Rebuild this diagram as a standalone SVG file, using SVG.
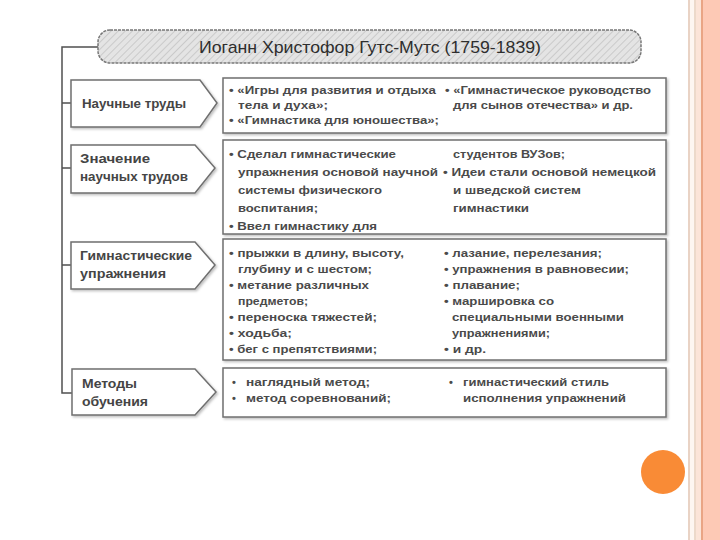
<svg xmlns="http://www.w3.org/2000/svg" width="720" height="540" viewBox="0 0 720 540">
<defs>
<pattern id="hatch" patternUnits="userSpaceOnUse" width="5" height="5" patternTransform="rotate(45)">
<rect width="5" height="5" fill="#e4e4e4"/>
<line x1="0" y1="0" x2="0" y2="5" stroke="#c4c4c4" stroke-width="1.6"/>
</pattern>
<filter id="sh" x="-5%" y="-5%" width="110%" height="120%">
<feDropShadow dx="1.5" dy="1.5" stdDeviation="0.8" flood-color="#000" flood-opacity="0.25"/>
</filter>
</defs>
<style>
.lb{fill:#fff;stroke:#6f6f6f;stroke-width:1.5;filter:url(#sh)}
.rb{fill:#fff;stroke:#6f6f6f;stroke-width:1.5;filter:url(#sh)}
.conn{fill:none;stroke:#505050;stroke-width:1.5}
text{font-family:"Liberation Sans",Arial,sans-serif;fill:#3c3c3c}
.t{font-size:11px;font-weight:bold;fill:#4a4a4a}
.l{font-size:12.5px;font-weight:bold;fill:#454545}
.h{font-size:17px;fill:#2e2e2e}
</style>
<rect width="720" height="540" fill="#ffffff"/>
<g id="border">
<rect x="688" y="0" width="2" height="540" fill="#e9d3c5"/>
<rect x="690" y="0" width="4" height="540" fill="#fdf6f1"/>
<rect x="694" y="0" width="2" height="540" fill="#ecd9ca"/>
<rect x="696" y="0" width="5" height="540" fill="#fbe4d8"/>
<rect x="701" y="0" width="2" height="540" fill="#e9a585"/>
<rect x="703" y="0" width="17" height="540" fill="#fdc9b5"/>
</g>
<circle cx="663" cy="472" r="22" fill="#f98b36"/>

<g id="connectors">
<path class="conn" d="M98,47 H62 V393 H72"/>
<path class="conn" d="M62,103 H71 M62,168 H71 M62,265 H71"/>
</g>

<g id="title">
<rect x="98" y="30" width="543" height="33" rx="12" fill="url(#hatch)" stroke="#777" stroke-width="1.5" stroke-dasharray="3 1"/>
<text class="h" x="370" y="53" text-anchor="middle" textLength="342" lengthAdjust="spacingAndGlyphs">Иоганн Христофор Гутс-Мутс (1759-1839)</text>
</g>

<g id="n1">
<path class="lb" d="M71,80 H200 L217,103 L200,127 H71 Z"/>
<text class="l" x="82" y="108" textLength="104" lengthAdjust="spacingAndGlyphs">Научные труды</text>
</g>
<g id="n1c">
<rect class="rb" x="223" y="78" width="443" height="55"/>
<text class="t" x="229" y="94" textLength="207" lengthAdjust="spacingAndGlyphs">• «Игры для развития и отдыха</text>
<text class="t" x="238" y="109" textLength="90" lengthAdjust="spacingAndGlyphs">тела и духа»;</text>
<text class="t" x="229" y="124" textLength="210" lengthAdjust="spacingAndGlyphs">• «Гимнастика для юношества»;</text>
<text class="t" x="445" y="94" textLength="206" lengthAdjust="spacingAndGlyphs">• «Гимнастическое руководство</text>
<text class="t" x="453" y="109" textLength="180" lengthAdjust="spacingAndGlyphs">для сынов отечества» и др.</text>
</g>

<g id="n2">
<path class="lb" d="M71,145 H195 L215,168 L195,193 H71 Z"/>
<text class="l" x="80" y="163" textLength="70" lengthAdjust="spacingAndGlyphs">Значение</text>
<text class="l" x="80" y="181" textLength="108" lengthAdjust="spacingAndGlyphs">научных трудов</text>
</g>
<g id="n2c">
<rect class="rb" x="223" y="140" width="443" height="94"/>
<text class="t" x="229" y="158" textLength="167" lengthAdjust="spacingAndGlyphs">• Сделал гимнастические</text>
<text class="t" x="238" y="176" textLength="200" lengthAdjust="spacingAndGlyphs">упражнения основой научной</text>
<text class="t" x="238" y="194" textLength="144" lengthAdjust="spacingAndGlyphs">системы физического</text>
<text class="t" x="238" y="212" textLength="80" lengthAdjust="spacingAndGlyphs">воспитания;</text>
<text class="t" x="229" y="230" textLength="148" lengthAdjust="spacingAndGlyphs">• Ввел гимнастику для</text>
<text class="t" x="453" y="158" textLength="112" lengthAdjust="spacingAndGlyphs">студентов ВУЗов;</text>
<text class="t" x="443" y="176" textLength="213" lengthAdjust="spacingAndGlyphs">• Идеи стали основой немецкой</text>
<text class="t" x="453" y="194" textLength="128" lengthAdjust="spacingAndGlyphs">и шведской систем</text>
<text class="t" x="453" y="212" textLength="76" lengthAdjust="spacingAndGlyphs">гимнастики</text>
</g>

<g id="n3">
<path class="lb" d="M71,242 H195 L215,265 L195,289 H71 Z"/>
<text class="l" x="80" y="260" textLength="112" lengthAdjust="spacingAndGlyphs">Гимнастические</text>
<text class="l" x="80" y="278" textLength="86" lengthAdjust="spacingAndGlyphs">упражнения</text>
</g>
<g id="n3c">
<rect class="rb" x="223" y="239" width="443" height="121"/>
<text class="t" x="229" y="257" textLength="175" lengthAdjust="spacingAndGlyphs">• прыжки в длину, высоту,</text>
<text class="t" x="238" y="273" textLength="134" lengthAdjust="spacingAndGlyphs">глубину и с шестом;</text>
<text class="t" x="229" y="289" textLength="140" lengthAdjust="spacingAndGlyphs">• метание различных</text>
<text class="t" x="238" y="305" textLength="70" lengthAdjust="spacingAndGlyphs">предметов;</text>
<text class="t" x="229" y="321" textLength="148" lengthAdjust="spacingAndGlyphs">• переноска тяжестей;</text>
<text class="t" x="229" y="337" textLength="63" lengthAdjust="spacingAndGlyphs">• ходьба;</text>
<text class="t" x="229" y="353" textLength="148" lengthAdjust="spacingAndGlyphs">• бег с препятствиями;</text>
<text class="t" x="444" y="257" textLength="158" lengthAdjust="spacingAndGlyphs">• лазание, перелезания;</text>
<text class="t" x="444" y="273" textLength="185" lengthAdjust="spacingAndGlyphs">• упражнения в равновесии;</text>
<text class="t" x="444" y="289" textLength="76" lengthAdjust="spacingAndGlyphs">• плавание;</text>
<text class="t" x="444" y="305" textLength="110" lengthAdjust="spacingAndGlyphs">• маршировка со</text>
<text class="t" x="452" y="321" textLength="172" lengthAdjust="spacingAndGlyphs">специальными военными</text>
<text class="t" x="452" y="337" textLength="98" lengthAdjust="spacingAndGlyphs">упражнениями;</text>
<text class="t" x="444" y="353" textLength="42" lengthAdjust="spacingAndGlyphs">• и др.</text>
</g>

<g id="n4">
<path class="lb" d="M72,369 H195 L216,392 L195,415 H72 Z"/>
<text class="l" x="82" y="388" textLength="55" lengthAdjust="spacingAndGlyphs">Методы</text>
<text class="l" x="82" y="406" textLength="66" lengthAdjust="spacingAndGlyphs">обучения</text>
</g>
<g id="n4c">
<rect class="rb" x="223" y="368" width="443" height="49"/>
<text class="t" x="232" y="386">•</text>
<text class="t" x="246" y="386" textLength="124" lengthAdjust="spacingAndGlyphs">наглядный метод;</text>
<text class="t" x="232" y="402">•</text>
<text class="t" x="246" y="402" textLength="145" lengthAdjust="spacingAndGlyphs">метод соревнований;</text>
<text class="t" x="449" y="386">•</text>
<text class="t" x="463" y="386" textLength="146" lengthAdjust="spacingAndGlyphs">гимнастический стиль</text>
<text class="t" x="463" y="402" textLength="163" lengthAdjust="spacingAndGlyphs">исполнения упражнений</text>
</g>
</svg>
